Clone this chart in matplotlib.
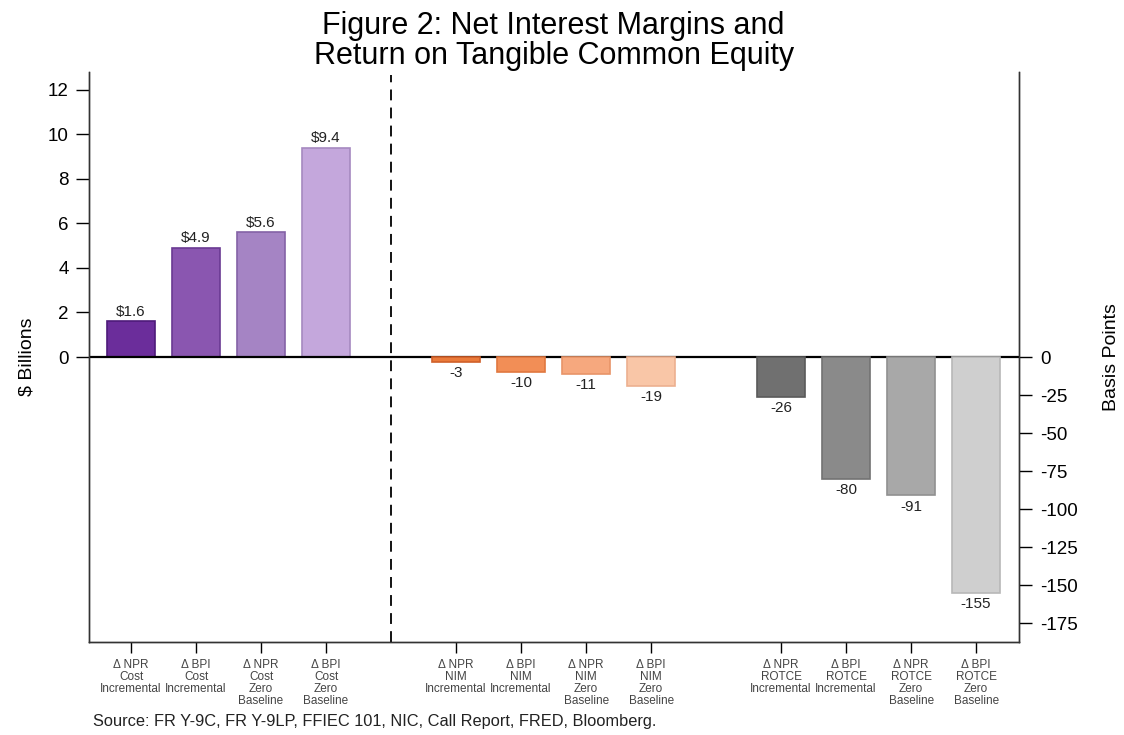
import numpy as np
import matplotlib.pyplot as plt

plt.rcParams['font.family'] = ['Liberation Sans', 'DejaVu Sans']
plt.rcParams['axes.unicode_minus'] = False

# cost bars ($ billions, left axis)
cost_pos = [1, 2, 3, 4]
cost_vals = [1.6, 4.9, 5.6, 9.4]
cost_labels = ["\u0394 NPR\nCost\nIncremental", "\u0394 BPI\nCost\nIncremental",
               "\u0394 NPR\nCost\nZero\nBaseline", "\u0394 BPI\nCost\nZero\nBaseline"]

# NIM bars (basis points, right axis)
nim_pos = [6, 7, 8, 9]
nim_vals = [-3, -10, -11, -19]
nim_labels = ["\u0394 NPR\nNIM\nIncremental", "\u0394 BPI\nNIM\nIncremental",
              "\u0394 NPR\nNIM\nZero\nBaseline", "\u0394 BPI\nNIM\nZero\nBaseline"]

# ROTCE bars (basis points, right axis)
rotce_pos = [11, 12, 13, 14]
rotce_vals = [-26, -80, -91, -155]
rotce_labels = ["\u0394 NPR\nROTCE\nIncremental", "\u0394 BPI\nROTCE\nIncremental",
                "\u0394 NPR\nROTCE\nZero\nBaseline", "\u0394 BPI\nROTCE\nZero\nBaseline"]

purples = ["#6b2d9b", "#8a56b0", "#a584c4", "#c4a7dc"]
purple_edges = ["#4e1a7a", "#6a3a92", "#8462a6", "#a589c0"]
oranges = ["#ea7a3a", "#f28e56", "#f6a87e", "#f9c6a7"]
orange_edges = ["#d0602a", "#e07840", "#e89468", "#ecb090"]
greys = ["#707070", "#8a8a8a", "#a8a8a8", "#cfcfcf"]
grey_edges = ["#5a5a5a", "#727272", "#909090", "#b8b8b8"]

fig = plt.figure(figsize=(11.24, 7.35), dpi=100)
ax = fig.add_axes([0.0792, 0.1265, 0.8274, 0.7755])
ax2 = ax.twinx()

bw = 0.75
ax.bar(cost_pos, cost_vals, width=bw, color=purples, edgecolor=purple_edges, linewidth=1.2, zorder=2)
ax2.bar(nim_pos, nim_vals, width=bw, color=oranges, edgecolor=orange_edges, linewidth=1.2, zorder=2)
ax2.bar(rotce_pos, rotce_vals, width=bw, color=greys, edgecolor=grey_edges, linewidth=1.2, zorder=2)

ax.set_ylim(-12.8, 12.8)
ax2.set_ylim(-187.5, 187.5)
ax.set_xlim(0.354, 14.66)

# value labels
for x, v in zip(cost_pos, cost_vals):
    ax.annotate(f"${v}", (x, v), xytext=(0, 2), textcoords="offset points",
                ha="center", va="bottom", fontsize=11, color="#222222")
for x, v in zip(nim_pos + rotce_pos, nim_vals + rotce_vals):
    ax2.annotate(f"{v}", (x, v), xytext=(0, -3), textcoords="offset points",
                 ha="center", va="top", fontsize=11, color="#222222")

ax.axhline(0, color="black", linewidth=1.6, zorder=3)
ax.axvline(5, color="black", linewidth=1.3, linestyle=(0, (6, 4)), ymax=0.995, zorder=3)

ax.set_yticks(np.arange(0, 13, 2))
ax.tick_params(axis="y", labelsize=13.5, length=9.5, width=1, direction="out", pad=5)
ax2.set_yticks(np.arange(-175, 1, 25))
ax2.tick_params(axis="y", labelsize=13.5, length=9.5, width=1, direction="out", pad=6)

ax.set_xticks(cost_pos + nim_pos + rotce_pos)
ax.set_xticklabels(cost_labels + nim_labels + rotce_labels, fontsize=8.5,
                   color="#444444", linespacing=1.0)
ax.tick_params(axis="x", length=8, width=1, direction="out", pad=4)

for a in (ax, ax2):
    a.spines["top"].set_visible(False)
    for s in ("left", "right", "bottom"):
        a.spines[s].set_color("#333333")
        a.spines[s].set_linewidth(1.0)

ax.set_ylabel("$ Billions", fontsize=14, labelpad=9)
ax2.set_ylabel("Basis Points", fontsize=14, labelpad=18)

fig.suptitle("Figure 2: Net Interest Margins and\nReturn on Tangible Common Equity",
             x=0.4925, y=0.985, fontsize=22, linespacing=1.0, va="top")
fig.text(0.083, 0.012, "Source: FR Y-9C, FR Y-9LP, FFIEC 101, NIC, Call Report, FRED, Bloomberg.",
         fontsize=11.8, color="#222222")

fig.savefig("out.png", dpi=100)
